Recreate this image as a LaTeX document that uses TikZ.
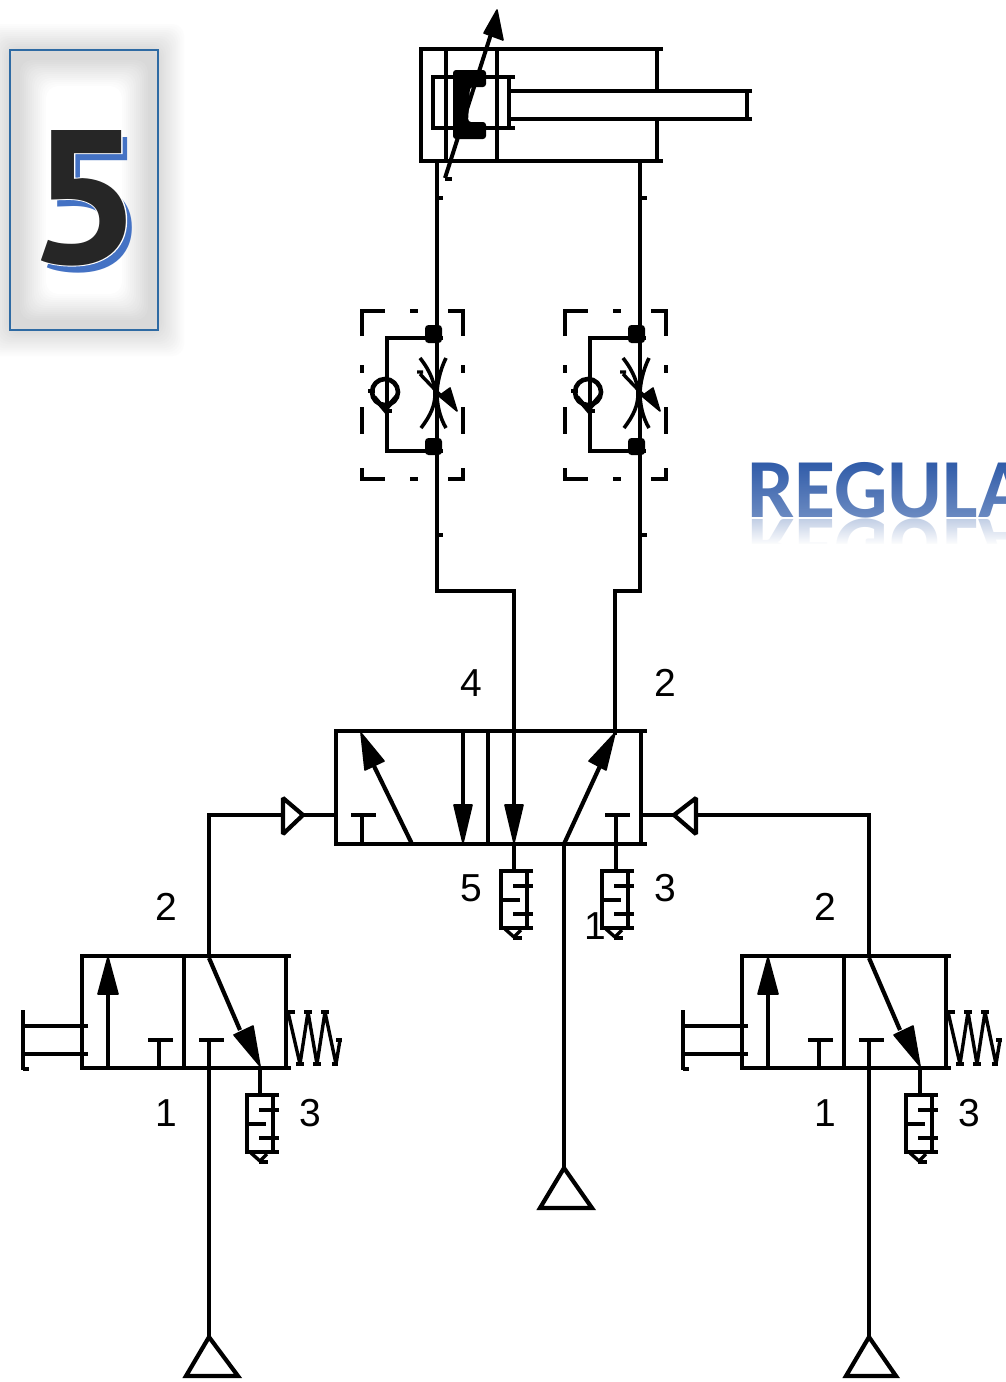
\documentclass[tikz,border=0pt]{standalone}
\usepackage{fontspec}
\usepackage{graphicx}
\setmainfont{Liberation Sans}
\newfontfamily\carlito{Carlito}
\newfontfamily\ptdigit{PT Sans}
\newfontfamily\ptoutline{PT Sans}[BoldFeatures={FakeBold=1}]
\usetikzlibrary{fadings}
\definecolor{boxblue}{HTML}{2E6AA3}
\definecolor{shblue}{HTML}{4472C4}
\definecolor{digitdark}{HTML}{262626}
\definecolor{titleblue}{HTML}{2E5AA8}
\tikzfading[name=titlefade, top color=transparent!100, bottom color=transparent!70]
\tikzfading[name=mirrorfade, top color=transparent!30, bottom color=transparent!0]
\tikzset{
  ln/.style={draw=black, line width=4.2pt, line cap=butt, line join=miter},
  head/.style={fill=black, draw=black, line width=1.6pt, line join=round},
  tick/.style={draw=black, line width=3.4pt},
  portlabel/.style={font=\fontsize{39}{41}\selectfont, inner sep=0pt, text=black},
}
\newcommand\arrowtip[3]{\filldraw[head] #1 -- #2 -- #3 -- cycle;}
\newcommand\silencerat[2]{
  \begin{scope}[shift={(#1,#2)}]
    \draw[ln] (32,0) -- (0,0) -- (0,57) -- (32,57);
    \draw[ln] (26,0) -- (26,57);
    \draw[ln] (12,15) -- (32,15);
    \draw[ln] (0,29) -- (19,29);
    \draw[ln] (12,43) -- (32,43);
    \draw[tick] (4,58) -- (13,66) -- (20,59);
    \draw[tick] (12,67) -- (21,67);
  \end{scope}}
\newcommand\flowat[2]{
  \begin{scope}[shift={(#1,#2)}]
    \draw[ln] (362,336) -- (362,311) -- (385,311);
    \draw[ln] (410,311) -- (418,311);
    \draw[ln] (448,311) -- (463,311) -- (463,336);
    \draw[ln] (362,365) -- (362,373);
    \draw[ln] (463,365) -- (463,373);
    \draw[ln] (362,407) -- (362,434);
    \draw[ln] (463,407) -- (463,434);
    \draw[ln] (362,468) -- (362,479) -- (385,479);
    \draw[ln] (410,479) -- (418,479);
    \draw[ln] (448,479) -- (463,479) -- (463,468);
    \draw[ln] (443,338) -- (387,338) -- (387,451) -- (443,451);
    \fill[rounded corners=3.5pt] (425,325) rectangle (442,343);
    \fill[rounded corners=3.5pt] (425,438) rectangle (442,455);
    \draw[line width=4.6pt] (385,392) circle (13);
    \draw[line width=4.6pt] (374,397) -- (385,410) -- (397,396);
    \draw[tick] (368,391) -- (375,391);
    \draw[tick] (385,411) -- (392,411);
    \draw[line width=3.6pt] (420,358) .. controls (431,372) and (435,384) .. (435,394) .. controls (435,405) and (431,415) .. (421,428);
    \draw[line width=3.6pt] (446,358) .. controls (440,370) and (437,384) .. (437,394) .. controls (437,405) and (440,418) .. (446,428);
    \draw[tick] (417,372) -- (423,372) (420,374) -- (442,397);
    \filldraw[head] (439,396) -- (450,388) -- (457,411) -- cycle;
  \end{scope}}
\newcommand\smallvalveat[2]{
  \begin{scope}[shift={(#1,#2)}]
    \draw[ln] (291,956) -- (82,956) -- (82,1068) -- (291,1068);
    \draw[ln] (184,956) -- (184,1068);
    \draw[ln] (286,956) -- (286,1068);
    \draw[ln] (108,1068) -- (108,990);
    \arrowtip{(108,957)}{(98,994)}{(118,994)}
    \draw[ln] (159,1068) -- (159,1040);
    \draw[ln] (148,1040) -- (173,1040);
    \draw[ln] (199,1040) -- (224,1040);
    \draw[ln] (209,958) -- (240,1030);
    \arrowtip{(260,1066)}{(234,1035)}{(253,1026)}
    \draw[ln] (260,1068) -- (260,1095);
    \draw[ln] (88,1026) -- (23,1026);
    \draw[ln] (88,1054) -- (23,1054);
    \draw[ln] (23,1010) -- (23,1070);
    \draw[tick] (23,1069) -- (29,1069);
    \draw[line width=3.4pt, line join=bevel] (288,1012) -- (300,1064) -- (308,1012) -- (317,1064) -- (325,1012) -- (336,1064) -- (340,1040);
    \draw[tick] (288,1012) -- (295,1012) (304,1012) -- (312,1012) (321,1012) -- (329,1012)
      (296,1064) -- (304,1064) (313,1064) -- (321,1064) (332,1064) -- (338,1064) (336,1040) -- (342,1040);
  \end{scope}}
\begin{document}
\begin{tikzpicture}[x=1pt,y=-1pt]
\useasboundingbox (0,0) rectangle (1006,1382);
\fill[white] (0,0) rectangle (1006,1382);
\begin{scope}
\clip (0,0) rectangle (1006,1382);
\foreach \t in {28,26,...,-36}{
  \pgfmathsetmacro\g{\t>=0 ? 0.85+0.15*(\t/28) : (\t>-8 ? 0.85 : 0.85+0.15*((-\t-8)/28))}
  \definecolor{tilegray}{gray}{\g}
  \fill[tilegray, rounded corners=12pt] (10-\t,50-\t) rectangle (158+\t,330+\t);
}
\draw[boxblue, line width=2pt] (10,50) rectangle (158,330);
\node[anchor=base, inner sep=0pt, text=shblue, font=\ptdigit\bfseries\fontsize{190}{190}\selectfont] (numshadow) at (91,270) {\scalebox{1.07}[1]{5}};
\node[anchor=base, inner sep=0pt, text=white, font=\ptoutline\bfseries\fontsize{190}{190}\selectfont] (numoutline) at (85,263) {\scalebox{1.07}[1]{5}};
\node[anchor=base, inner sep=0pt, text=digitdark, font=\ptdigit\bfseries\fontsize{190}{190}\selectfont] (num) at (85,263) {\scalebox{1.07}[1]{5}};
\node[anchor=base west, inner sep=0pt, text=titleblue, font=\carlito\bfseries\fontsize{84}{84}\selectfont] (title) at (747,517) {REGULA};
\node[anchor=base west, inner sep=0pt, text=titleblue, font=\carlito\bfseries\fontsize{84}{84}\selectfont] (titlemirror) at (747,519) {\scalebox{1}[-1]{REGULA}};
\fill[white, path fading=titlefade] (745,460) rectangle (1006,518);
\fill[white, path fading=mirrorfade] (745,518) rectangle (1006,545);
\fill[white] (745,544) rectangle (1006,590);
\end{scope}
\coordinate (cylA) at (437,161);
\coordinate (cylB) at (640,161);
\coordinate (elbA) at (437,591);
\coordinate (elbB) at (640,591);
\coordinate (elbA2) at (514,591);
\coordinate (elbB2) at (615,591);
\coordinate (port4) at (514,810);
\coordinate (port2) at (615,735);
\coordinate (ex5) at (514,871);
\coordinate (valve5) at (514,844);
\coordinate (ex3) at (616,871);
\coordinate (t3) at (616,815);
\coordinate (pilotL) at (336,815);
\coordinate (pilotLc) at (209,815);
\coordinate (pilotLv) at (209,956);
\coordinate (pilotR) at (641,815);
\coordinate (pilotRc) at (869,815);
\coordinate (pilotRv) at (869,956);
\coordinate (sup1a) at (564,844);
\coordinate (sup1b) at (564,1168);
\coordinate (supLa) at (209,1040);
\coordinate (supLb) at (209,1337);
\coordinate (supRa) at (869,1040);
\coordinate (supRb) at (869,1337);
% cylinder
\draw[ln] (663,49) -- (421,49) -- (421,161) -- (663,161);
\draw[ln] (446,49) -- (446,161);
\draw[ln] (497,49) -- (497,161);
\draw[ln] (657,49) -- (657,91);
\draw[ln] (657,119) -- (657,161);
\draw[ln] (515,77) -- (433,77) -- (433,128) -- (515,128);
\draw[ln] (509,77) -- (509,128);
\draw[ln] (752,91) -- (509,91);
\draw[ln] (752,119) -- (509,119);
\draw[ln] (747,91) -- (747,119);
\draw[line width=4pt] (445,178) -- (491,34);
\draw[tick] (445,179) -- (452,179);
\arrowtip{(497,10)}{(484,33)}{(503,40)}
\fill[rounded corners=3pt] (453,70) -- (486,70) -- (486,87) -- (470,87) -- (468,122) -- (486,122) -- (486,139) -- (453,139) -- cycle;
% flow controls
\flowat{0}{0}
\flowat{203}{0}
% lines cylinder to valve
\draw[ln] (cylA) -- (elbA) -- (elbA2) -- (port4);
\draw[ln] (cylB) -- (elbB) -- (elbB2) -- (port2);
\draw[tick] (437,198) -- (443,198) (640,198) -- (647,198) (437,535) -- (443,535) (640,535) -- (647,535);
% main valve
\draw[ln] (647,731) -- (336,731) -- (336,844) -- (647,844);
\draw[ln] (488,731) -- (488,844);
\draw[ln] (641,731) -- (641,844);
\draw[ln] (412,844) -- (374,766);
\arrowtip{(361,733)}{(384,761)}{(365,770)}
\draw[ln] (463,731) -- (463,808);
\arrowtip{(463,843)}{(454,805)}{(472,805)}
\arrowtip{(514,843)}{(505,805)}{(523,805)}
\draw[ln] (564,844) -- (600,766);
\arrowtip{(615,733)}{(589,761)}{(606,770)}
\draw[ln] (362,844) -- (362,815);
\draw[ln] (351,815) -- (376,815);
\draw[ln] (605,815) -- (630,815);
% pilot lines
\draw[ln] (pilotLv) -- (pilotLc) -- (282,815);
\draw[ln] (303,815) -- (pilotL);
\draw[ln, line join=bevel] (283,798) -- (303,815) -- (283,834) -- cycle;
\draw[ln] (pilotRv) -- (pilotRc) -- (697,815);
\draw[ln] (674,815) -- (pilotR);
\draw[ln, line join=bevel] (696,798) -- (674,815) -- (696,834) -- cycle;
% exhausts
\draw[ln] (valve5) -- (ex5);
\draw[ln] (t3) -- (ex3);
\silencerat{501}{871}
\silencerat{602}{871}
% supply
\draw[ln] (sup1a) -- (sup1b);
\draw[ln] (sup1b) -- (540,1208) -- (592,1208) -- cycle;
\smallvalveat{0}{0}
\smallvalveat{660}{0}
\silencerat{247}{1095}
\silencerat{906}{1095}
\draw[ln] (supLa) -- (supLb);
\draw[ln] (supLb) -- (186,1376) -- (238,1376) -- cycle;
\draw[ln] (supRa) -- (supRb);
\draw[ln] (supRb) -- (846,1376) -- (896,1376) -- cycle;
% labels
\node[portlabel] (l4) at (471,683) {4};
\node[portlabel] (l2a) at (665,683) {2};
\node[portlabel] (l5) at (471,888) {5};
\node[portlabel] (l3a) at (665,888) {3};
\node[portlabel] (l1a) at (595,926) {1};
\node[portlabel] (l2b) at (166,907) {2};
\node[portlabel] (l1b) at (166,1113) {1};
\node[portlabel] (l3b) at (310,1113) {3};
\node[portlabel] (l2c) at (825,907) {2};
\node[portlabel] (l1c) at (825,1113) {1};
\node[portlabel] (l3c) at (969,1113) {3};
\end{tikzpicture}
\end{document}
